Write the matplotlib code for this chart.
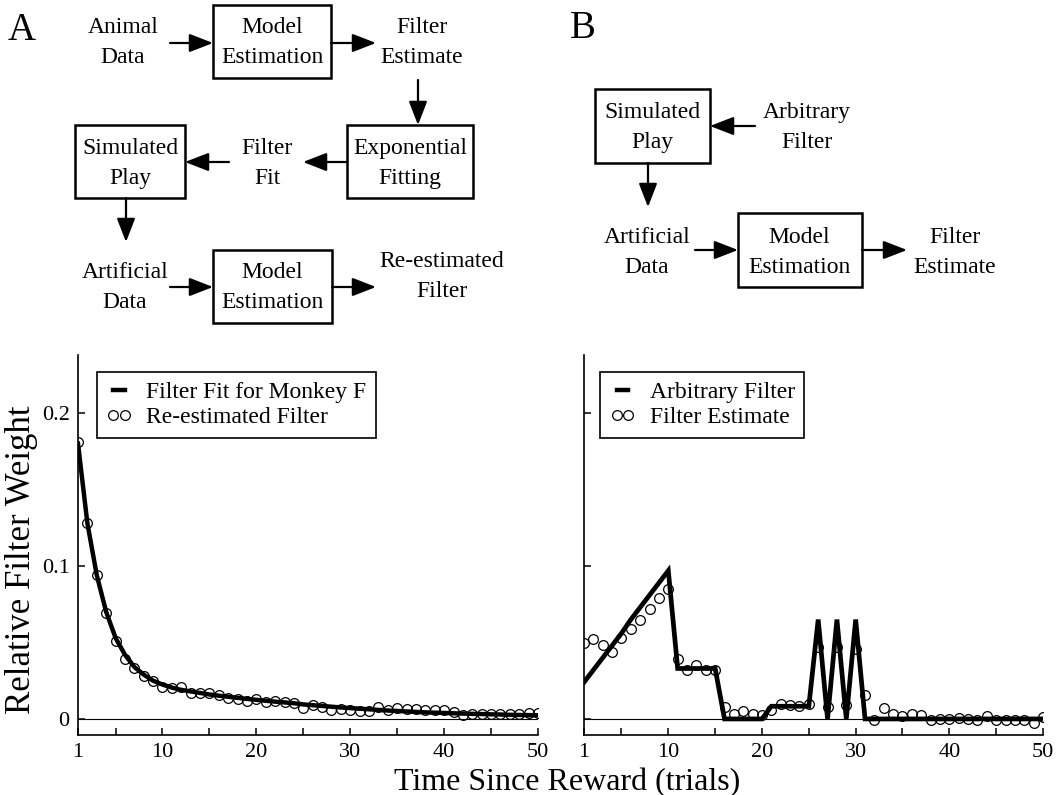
import matplotlib
matplotlib.use("Agg")
import matplotlib.pyplot as plt
from matplotlib.patches import Rectangle, FancyArrowPatch
from matplotlib.lines import Line2D

plt.rcParams['font.family'] = ['Liberation Serif', 'DejaVu Serif']

# ---------------- data ----------------
trials = list(range(1, 51))
x_ticks = [1, 10, 20, 30, 40, 50]
x_tick_labels = ["1", "10", "20", "30", "40", "50"]
x_minor_ticks = [5, 15, 25, 35, 45]
y_ticks = [0, 0.1, 0.2]
y_tick_labels = ["0", "0.1", "0.2"]

# Panel A: exponential fit for Monkey F and the re-estimated filter
fit_monkey_f = [0.180, 0.128, 0.094, 0.070, 0.053, 0.042, 0.034, 0.029, 0.025, 0.0225,
                0.0205, 0.0190, 0.0180, 0.0170, 0.0160, 0.0152, 0.0145, 0.0138, 0.0131, 0.0125,
                0.0119, 0.0113, 0.0108, 0.0103, 0.0095, 0.0090, 0.0085, 0.0080, 0.0075, 0.0071,
                0.0067, 0.0063, 0.0059, 0.0055, 0.0052, 0.0049, 0.0046, 0.0043, 0.0041, 0.0039,
                0.0037, 0.0035, 0.0033, 0.0032, 0.0030, 0.0029, 0.0027, 0.0026, 0.0025, 0.0024]
reestimated = [0.181, 0.128, 0.094, 0.069, 0.051, 0.039, 0.033, 0.028, 0.025, 0.021,
               0.020, 0.021, 0.017, 0.017, 0.017, 0.0155, 0.014, 0.013, 0.0115, 0.013,
               0.011, 0.012, 0.011, 0.0105, 0.007, 0.009, 0.0075, 0.0057, 0.0065, 0.006,
               0.005, 0.005, 0.0075, 0.006, 0.007, 0.0065, 0.0065, 0.006, 0.0058, 0.006,
               0.0045, 0.0025, 0.003, 0.003, 0.0033, 0.0033, 0.0033, 0.0033, 0.004, 0.0037]

# Panel B: arbitrary filter and its estimate
arbitrary_filter = [0.024, 0.032, 0.040, 0.048, 0.056, 0.065, 0.073, 0.081, 0.089, 0.097,
                    0.033, 0.033, 0.033, 0.033, 0.033, 0.0, 0.0, 0.0, 0.0, 0.0,
                    0.0083, 0.0083, 0.0083, 0.0083, 0.0083, 0.065, 0.0, 0.065, 0.0, 0.065,
                    0.0, 0.0, 0.0, 0.0, 0.0, 0.0, 0.0, 0.0, 0.0, 0.0,
                    0.0, 0.0, 0.0, 0.0, 0.0, 0.0, 0.0, 0.0, 0.0, 0.0]
filter_estimate = [0.0498, 0.052, 0.0485, 0.044, 0.053, 0.059, 0.065, 0.0716, 0.079, 0.085,
                   0.039, 0.032, 0.035, 0.032, 0.032, 0.008, 0.0035, 0.005, 0.0035, 0.0024,
                   0.006, 0.0096, 0.009, 0.0083, 0.010, 0.047, 0.008, 0.047, 0.009, 0.046,
                   0.0157, -0.0007, 0.007, 0.0035, 0.0017, 0.003, 0.0024, -0.0004, 0.0002, 0.0002,
                   0.0007, 0.0002, -0.0004, 0.002, -0.001, -0.0004, -0.001, -0.0008, -0.0026, 0.0013]

W, H = 1060, 795
fig = plt.figure(figsize=(W / 100, H / 100), dpi=100)

# ---------------- flow diagrams (pixel coordinates) ----------------
d = fig.add_axes([0, 0, 1, 1])
d.set_xlim(0, W)
d.set_ylim(H, 0)
d.axis('off')

FS = 17


def two_lines(x, y1, top, bottom, gap=30):
    d.text(x, y1, top, ha='center', va='baseline', fontsize=FS)
    d.text(x, y1 + gap, bottom, ha='center', va='baseline', fontsize=FS)


def box(x0, y0, x1, y1):
    d.add_patch(Rectangle((x0, y0), x1 - x0, y1 - y0, fill=False,
                          edgecolor='black', linewidth=1.8))


def arrow(x0, y0, x1, y1):
    d.add_patch(FancyArrowPatch((x0, y0), (x1, y1),
                                arrowstyle='-|>,head_length=0.85,head_width=0.33',
                                mutation_scale=17, color='black', linewidth=1.6,
                                shrinkA=0, shrinkB=0))


d.text(22, 40, "A", ha='center', va='baseline', fontsize=28)
d.text(583, 38, "B", ha='center', va='baseline', fontsize=28)

# Panel A diagram
two_lines(123, 33, "Animal", "Data")
box(213, 5, 331, 78)
two_lines(272, 33, "Model", "Estimation")
two_lines(422, 33, "Filter", "Estimate")
arrow(170, 43, 213, 43)
arrow(331, 43, 376, 43)
arrow(418, 80, 418, 125)
box(347, 125, 473, 198)
two_lines(410, 154, "Exponential", "Fitting")
arrow(347, 162, 303, 162)
two_lines(267, 154, "Filter", "Fit")
arrow(229, 162, 185, 162)
box(75, 125, 185, 198)
two_lines(130, 154, "Simulated", "Play")
arrow(126, 198, 126, 242)
two_lines(125, 278, "Artificial", "Data")
arrow(170, 287, 213, 287)
box(213, 250, 332, 323)
two_lines(272, 278, "Model", "Estimation")
arrow(332, 287, 376, 287)
two_lines(442, 267, "Re-estimated", "Filter")

# Panel B diagram
box(595, 89, 710, 163)
two_lines(652, 118, "Simulated", "Play")
arrow(755, 126, 710, 126)
two_lines(807, 118, "Arbitrary", "Filter")
arrow(648, 163, 648, 207)
two_lines(647, 243, "Artificial", "Data")
arrow(695, 250, 738, 250)
box(738, 213, 862, 287)
two_lines(799, 243, "Model", "Estimation")
arrow(862, 250, 907, 250)
two_lines(955, 243, "Filter", "Estimate")

# ---------------- filter plots ----------------
YMIN, YMAX = -0.0105, 0.238
ax_a = fig.add_axes([78 / W, 60 / H, 460 / W, 380 / H])
ax_b = fig.add_axes([584 / W, 60 / H, 459 / W, 380 / H])


def style(ax, show_ylabels):
    ax.set_xlim(1, 50)
    ax.set_ylim(YMIN, YMAX)
    for s in ('top', 'right'):
        ax.spines[s].set_visible(False)
    for s in ('left', 'bottom'):
        ax.spines[s].set_linewidth(1.2)
    ax.axhline(0, color='black', linewidth=0.8, zorder=1)
    ax.set_xticks(x_ticks)
    ax.set_xticklabels(x_tick_labels)
    ax.set_xticks(x_minor_ticks, minor=True)
    ax.set_yticks(y_ticks)
    if show_ylabels:
        ax.set_yticklabels(y_tick_labels)
    else:
        ax.set_yticklabels([])
    ax.tick_params(which='both', direction='in', length=5, width=1.1,
                   labelsize=16, pad=6)


style(ax_a, True)
style(ax_b, False)

mk = dict(linestyle='none', marker='o', markersize=7, markerfacecolor='none',
          markeredgecolor='black', markeredgewidth=0.9)

ax_a.plot(trials, reestimated, zorder=2, **mk)
ax_a.plot(trials, fit_monkey_f, color='black', linewidth=3.2, zorder=3,
          solid_joinstyle='miter')
ax_b.plot(trials, filter_estimate, zorder=2, **mk)
ax_b.plot(trials, arbitrary_filter, color='black', linewidth=3.4, zorder=3,
          solid_joinstyle='miter')

leg_kw = dict(loc='upper left', borderaxespad=0, numpoints=2, fontsize=17,
              handlelength=1.1, handletextpad=0.6, borderpad=0.4,
              labelspacing=0.15, fancybox=False, framealpha=1,
              edgecolor='black')

h_line = Line2D([], [], color='black', linewidth=3.2)
h_circ = Line2D([], [], **mk)
la = ax_a.legend([h_line, h_circ], ["Filter Fit for Monkey F", "Re-estimated Filter"],
                 bbox_to_anchor=(0.041, 0.955), **leg_kw)
la.get_frame().set_linewidth(1.2)
lb = ax_b.legend([h_line, h_circ], ["Arbitrary Filter", "Filter Estimate"],
                 bbox_to_anchor=(0.035, 0.955), **leg_kw)
lb.get_frame().set_linewidth(1.2)

fig.text(22 / W, 1 - 560 / H, "Relative Filter Weight", rotation=90,
         ha='center', va='center', fontsize=25)
fig.text(567 / W, 1 - 790 / H, "Time Since Reward (trials)",
         ha='center', va='baseline', fontsize=23)

fig.savefig("out.png", dpi=100)
